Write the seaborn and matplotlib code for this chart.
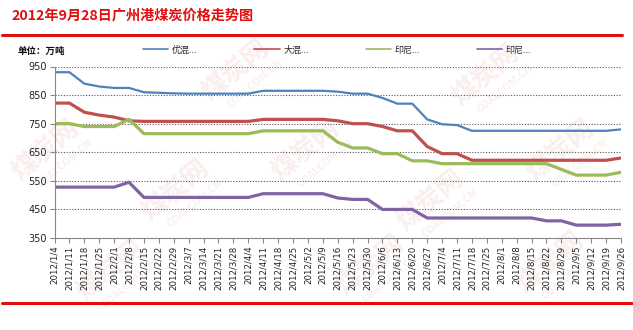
import matplotlib
matplotlib.use("Agg")
import matplotlib.pyplot as plt
import seaborn as sns
import pandas as pd

# Weekly price dates (2012)
dates = ["2012/1/4", "2012/1/11", "2012/1/18", "2012/1/25", "2012/2/1", "2012/2/8",
         "2012/2/15", "2012/2/22", "2012/2/29", "2012/3/7", "2012/3/14", "2012/3/21",
         "2012/3/28", "2012/4/4", "2012/4/11", "2012/4/18", "2012/4/25", "2012/5/2",
         "2012/5/9", "2012/5/16", "2012/5/23", "2012/5/30", "2012/6/6", "2012/6/13",
         "2012/6/20", "2012/6/27", "2012/7/4", "2012/7/11", "2012/7/18", "2012/7/25",
         "2012/8/1", "2012/8/8", "2012/8/15", "2012/8/22", "2012/8/29", "2012/9/5",
         "2012/9/12", "2012/9/19", "2012/9/26"]

youhun = [930, 930, 890, 880, 875, 875, 860, 858, 856, 855, 855, 855, 855, 855,
          865, 865, 865, 865, 865, 862, 855, 855, 840, 820, 820, 765, 748, 745,
          725, 725, 725, 725, 725, 725, 725, 725, 725, 725, 730]
dahun = [822, 822, 790, 780, 773, 760, 758, 758, 758, 758, 758, 758, 758, 758,
         765, 765, 765, 765, 765, 760, 750, 750, 740, 725, 725, 670, 645, 645,
         622, 622, 622, 622, 622, 622, 622, 622, 622, 622, 630]
yinni_a = [750, 750, 740, 740, 740, 765, 715, 715, 715, 715, 715, 715, 715, 715,
           725, 725, 725, 725, 725, 685, 665, 665, 645, 645, 620, 620, 610, 610,
           610, 610, 610, 610, 610, 610, 590, 570, 570, 570, 580]
yinni_b = [528, 528, 528, 528, 528, 545, 492, 492, 492, 492, 492, 492, 492, 492,
           505, 505, 505, 505, 505, 490, 485, 485, 450, 450, 450, 420, 420, 420,
           420, 420, 420, 420, 420, 410, 410, 395, 395, 395, 398]

series_keys = ["youhun", "dahun", "yinni_a", "yinni_b"]
legend_labels = ["优混...", "大混...", "印尼...", "印尼..."]
colors = ["#4F81BD", "#C0504D", "#9BBB59", "#8064A2"]
widths = [1.6, 2.3, 2.3, 2.3]
yticks = [350, 450, 550, 650, 750, 850, 950]

frames = []
for key, vals in zip(series_keys, [youhun, dahun, yinni_a, yinni_b]):
    frames.append(pd.DataFrame({"idx": range(len(dates)), "price": vals, "series": key}))
df = pd.concat(frames, ignore_index=True)

sns.set_style("white")
plt.rcParams["font.family"] = ["Noto Sans CJK SC", "DejaVu Sans"]

W, H = 633, 330
fig = plt.figure(figsize=(W / 100, H / 100), dpi=100)
fig.patch.set_facecolor("white")

def fx(px):
    return px / W

def fy(py):
    return 1 - py / H

# faint site watermarks behind everything
for (wx, wy) in [(45, 150), (175, 190), (305, 150), (430, 200), (560, 150),
                 (235, 70), (485, 75), (110, 270), (370, 265), (550, 262)]:
    fig.text(fx(wx), fy(wy), "煤炭网", fontsize=19, fontweight="bold",
             color="#fbeeee", rotation=40, ha="center", va="center", zorder=-5)
    fig.text(fx(wx + 20), fy(wy + 13), "COALCOM.CN", fontsize=7.5, fontweight="bold",
             color="#faf0ee", rotation=40, ha="center", va="center", zorder=-5)

left, right = 54.5, 621.0
top, bottom = 66.5, 238.0
ax = fig.add_axes([fx(left), fy(bottom), fx(right) - fx(left), (bottom - top) / H])
ax.patch.set_alpha(0)
ax.set_zorder(2)

sns.lineplot(data=df, x="idx", y="price", hue="series", hue_order=series_keys,
             palette=colors, ax=ax, legend=False, estimator=None)
for line, lw in zip(ax.get_lines(), widths):
    line.set_linewidth(lw)
    line.set_solid_joinstyle("round")

ax.set_xlim(0, len(dates) - 1)
ax.set_ylim(350, 950)
ax.set_yticks(yticks)
ax.set_yticklabels([str(v) for v in yticks], fontsize=7, family="DejaVu Sans", color="#222222")
ax.set_xticks(range(len(dates)))
ax.set_xticklabels(dates, rotation=90, fontsize=6.2, family="DejaVu Sans", color="#222222")
ax.set_xlabel("")
ax.set_ylabel("")

for gv in yticks[1:]:
    ax.axhline(gv, color="#555555", lw=0.8, ls=(0, (1, 1.5)), zorder=0)

for side in ["top", "right"]:
    ax.spines[side].set_visible(False)
for side in ["left", "bottom"]:
    ax.spines[side].set_color("#888888")
    ax.spines[side].set_linewidth(0.8)
ax.tick_params(axis="both", which="major", length=3.5, width=0.8, color="#888888",
               direction="out", pad=2)
ax.tick_params(axis="y", left=True)
ax.tick_params(axis="x", bottom=True)

# legend across the top
handles = []
for c in colors:
    h, = ax.plot([], [], color=c, lw=1.2)
    handles.append(h)
leg = fig.legend(handles, legend_labels, loc="center left", ncol=4,
                 bbox_to_anchor=(fx(143), fy(50)), bbox_transform=fig.transFigure,
                 frameon=False, fontsize=6.5, handlelength=2.8, handletextpad=0.4,
                 columnspacing=6.3, borderpad=0, borderaxespad=0)
for t in leg.get_texts():
    t.set_color("#222222")

# title, unit and red rules
fig.text(fx(11), fy(15), "2012年9月28日广州港煤炭价格走势图", fontsize=10.2,
         fontweight="bold", color="#E01010", ha="left", va="center")
fig.text(fx(18), fy(51), "单位：万吨", fontsize=6.8, fontweight="bold",
         color="#111111", ha="left", va="center")
fig.add_artist(plt.Line2D([fx(2), fx(622)], [fy(34.5), fy(34.5)], color="#E01010",
                          lw=2.2, transform=fig.transFigure))
fig.add_artist(plt.Line2D([fx(2), fx(632)], [fy(302.5), fy(302.5)], color="#E01010",
                          lw=2.2, transform=fig.transFigure))

fig.savefig("out.png", dpi=100, facecolor="white")
